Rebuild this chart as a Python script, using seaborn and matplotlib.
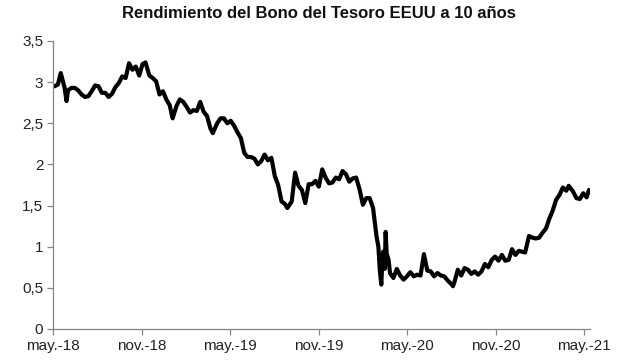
import matplotlib
matplotlib.use("Agg")
import matplotlib.pyplot as plt
import seaborn as sns
import pandas as pd
import numpy as np

title = "Rendimiento del Bono del Tesoro EEUU a 10 años"

dates = [
    "2018-05-01", "2018-05-04", "2018-05-11", "2018-05-17", "2018-05-25", "2018-05-29", "2018-06-01",
    "2018-06-08", "2018-06-15", "2018-06-22", "2018-06-29", "2018-07-06", "2018-07-13", "2018-07-20",
    "2018-07-27", "2018-08-03", "2018-08-10", "2018-08-17", "2018-08-24", "2018-08-31", "2018-09-07",
    "2018-09-14", "2018-09-21", "2018-09-28", "2018-10-05", "2018-10-12", "2018-10-19", "2018-10-26",
    "2018-11-02", "2018-11-08", "2018-11-16", "2018-11-23", "2018-11-30", "2018-12-07", "2018-12-14",
    "2018-12-21", "2018-12-28", "2019-01-03", "2019-01-11", "2019-01-18", "2019-01-25", "2019-02-01",
    "2019-02-08", "2019-02-15", "2019-02-22", "2019-03-01", "2019-03-08", "2019-03-15", "2019-03-22",
    "2019-03-27", "2019-04-05", "2019-04-12", "2019-04-19", "2019-04-26", "2019-05-03", "2019-05-10",
    "2019-05-17", "2019-05-24", "2019-05-31", "2019-06-07", "2019-06-14", "2019-06-21", "2019-06-28",
    "2019-07-05", "2019-07-12", "2019-07-19", "2019-07-26", "2019-08-02", "2019-08-09", "2019-08-16",
    "2019-08-23", "2019-08-28", "2019-09-06", "2019-09-13", "2019-09-20", "2019-09-27", "2019-10-04",
    "2019-10-11", "2019-10-18", "2019-10-25", "2019-11-01", "2019-11-08", "2019-11-15", "2019-11-22",
    "2019-11-29", "2019-12-06", "2019-12-13", "2019-12-20", "2019-12-27", "2020-01-03", "2020-01-10",
    "2020-01-17", "2020-01-24", "2020-01-31", "2020-02-07", "2020-02-14", "2020-02-21", "2020-02-28",
    "2020-03-03", "2020-03-06", "2020-03-09", "2020-03-11", "2020-03-13", "2020-03-16", "2020-03-18",
    "2020-03-20", "2020-03-24", "2020-03-27", "2020-04-03", "2020-04-10", "2020-04-17", "2020-04-24",
    "2020-05-01", "2020-05-08", "2020-05-15", "2020-05-22", "2020-05-29", "2020-06-05", "2020-06-12",
    "2020-06-19", "2020-06-26", "2020-07-03", "2020-07-10", "2020-07-17", "2020-07-24", "2020-07-31",
    "2020-08-04", "2020-08-07", "2020-08-14", "2020-08-21", "2020-08-28", "2020-09-04", "2020-09-11",
    "2020-09-18", "2020-09-25", "2020-10-02", "2020-10-09", "2020-10-16", "2020-10-23", "2020-10-30",
    "2020-11-06", "2020-11-13", "2020-11-20", "2020-11-27", "2020-12-04", "2020-12-11", "2020-12-18",
    "2020-12-24", "2020-12-31", "2021-01-08", "2021-01-15", "2021-01-22", "2021-01-29", "2021-02-05",
    "2021-02-12", "2021-02-19", "2021-02-26", "2021-03-05", "2021-03-12", "2021-03-19", "2021-03-26",
    "2021-03-31", "2021-04-09", "2021-04-16", "2021-04-23", "2021-04-30", "2021-05-07", "2021-05-12",
]

yields = [
    2.95, 2.95, 2.97, 3.11, 2.93, 2.77, 2.90,
    2.93, 2.93, 2.90, 2.85, 2.82, 2.83, 2.89,
    2.96, 2.95, 2.87, 2.87, 2.82, 2.86, 2.94,
    2.99, 3.07, 3.05, 3.23, 3.15, 3.19, 3.08,
    3.22, 3.24, 3.08, 3.05, 3.01, 2.85, 2.89,
    2.79, 2.72, 2.56, 2.71, 2.79, 2.76, 2.70,
    2.63, 2.66, 2.65, 2.76, 2.64, 2.59, 2.44,
    2.38, 2.50, 2.56, 2.56, 2.50, 2.53, 2.47,
    2.39, 2.32, 2.14, 2.09, 2.09, 2.07, 2.00,
    2.04, 2.12, 2.05, 2.08, 1.86, 1.75, 1.55,
    1.52, 1.47, 1.55, 1.90, 1.74, 1.69, 1.53,
    1.76, 1.76, 1.80, 1.73, 1.94, 1.84, 1.77,
    1.78, 1.84, 1.82, 1.92, 1.88, 1.79, 1.83,
    1.84, 1.70, 1.51, 1.59, 1.59, 1.47, 1.13,
    1.00, 0.71, 0.54, 0.82, 0.94, 0.73, 1.18,
    0.92, 0.84, 0.68, 0.62, 0.73, 0.65, 0.60,
    0.64, 0.69, 0.64, 0.66, 0.65, 0.91, 0.71,
    0.70, 0.64, 0.68, 0.65, 0.64, 0.59, 0.55,
    0.52, 0.57, 0.72, 0.65, 0.74, 0.72, 0.67,
    0.70, 0.66, 0.70, 0.79, 0.75, 0.84, 0.88,
    0.83, 0.90, 0.83, 0.84, 0.97, 0.90, 0.95,
    0.94, 0.93, 1.13, 1.11, 1.10, 1.11, 1.17,
    1.22, 1.34, 1.44, 1.57, 1.63, 1.72, 1.68,
    1.74, 1.67, 1.59, 1.58, 1.65, 1.60, 1.69,
]

x_tick_dates = ["2018-05-01", "2018-11-01", "2019-05-01", "2019-11-01", "2020-05-01", "2020-11-01", "2021-05-01"]
x_tick_labels = ["may.-18", "nov.-18", "may.-19", "nov.-19", "may.-20", "nov.-20", "may.-21"]
y_ticks = [0, 0.5, 1, 1.5, 2, 2.5, 3, 3.5]
y_tick_labels = ["0", "0,5", "1", "1,5", "2", "2,5", "3", "3,5"]

sns.set_theme(style="white")
plt.rcParams["font.family"] = ["Liberation Sans", "DejaVu Sans"]

df = pd.DataFrame({"fecha": pd.to_datetime(dates), "rend": yields})

fig = plt.figure(figsize=(6.17, 3.64), dpi=100)
ax = fig.add_axes([53 / 617, 1 - 329 / 364, (590 - 53) / 617, (329 - 41) / 364])

sns.lineplot(data=df, x="fecha", y="rend", ax=ax, color="black", linewidth=3.0)

ax.set_xlim(pd.Timestamp("2018-05-01"), pd.Timestamp("2021-05-14"))
ax.set_ylim(0, 3.5)
ax.set_xticks(pd.to_datetime(x_tick_dates))
ax.set_xticklabels(x_tick_labels)
ax.set_yticks(y_ticks)
ax.set_yticklabels(y_tick_labels)
ax.set_xlabel("")
ax.set_ylabel("")

for s in ["top", "right"]:
    ax.spines[s].set_visible(False)
for s in ["left", "bottom"]:
    ax.spines[s].set_color("#868686")
    ax.spines[s].set_linewidth(0.9)

ax.tick_params(axis="both", which="major", direction="out", length=4, width=0.9,
               color="#868686", labelsize=11, labelcolor="#222222", pad=3,
               bottom=True, left=True)

fig.text(0.517, 1 - 13 / 364, title, ha="center", va="center",
         fontsize=12, fontweight="bold", color="#111111")

fig.savefig("out.png", dpi=100)
